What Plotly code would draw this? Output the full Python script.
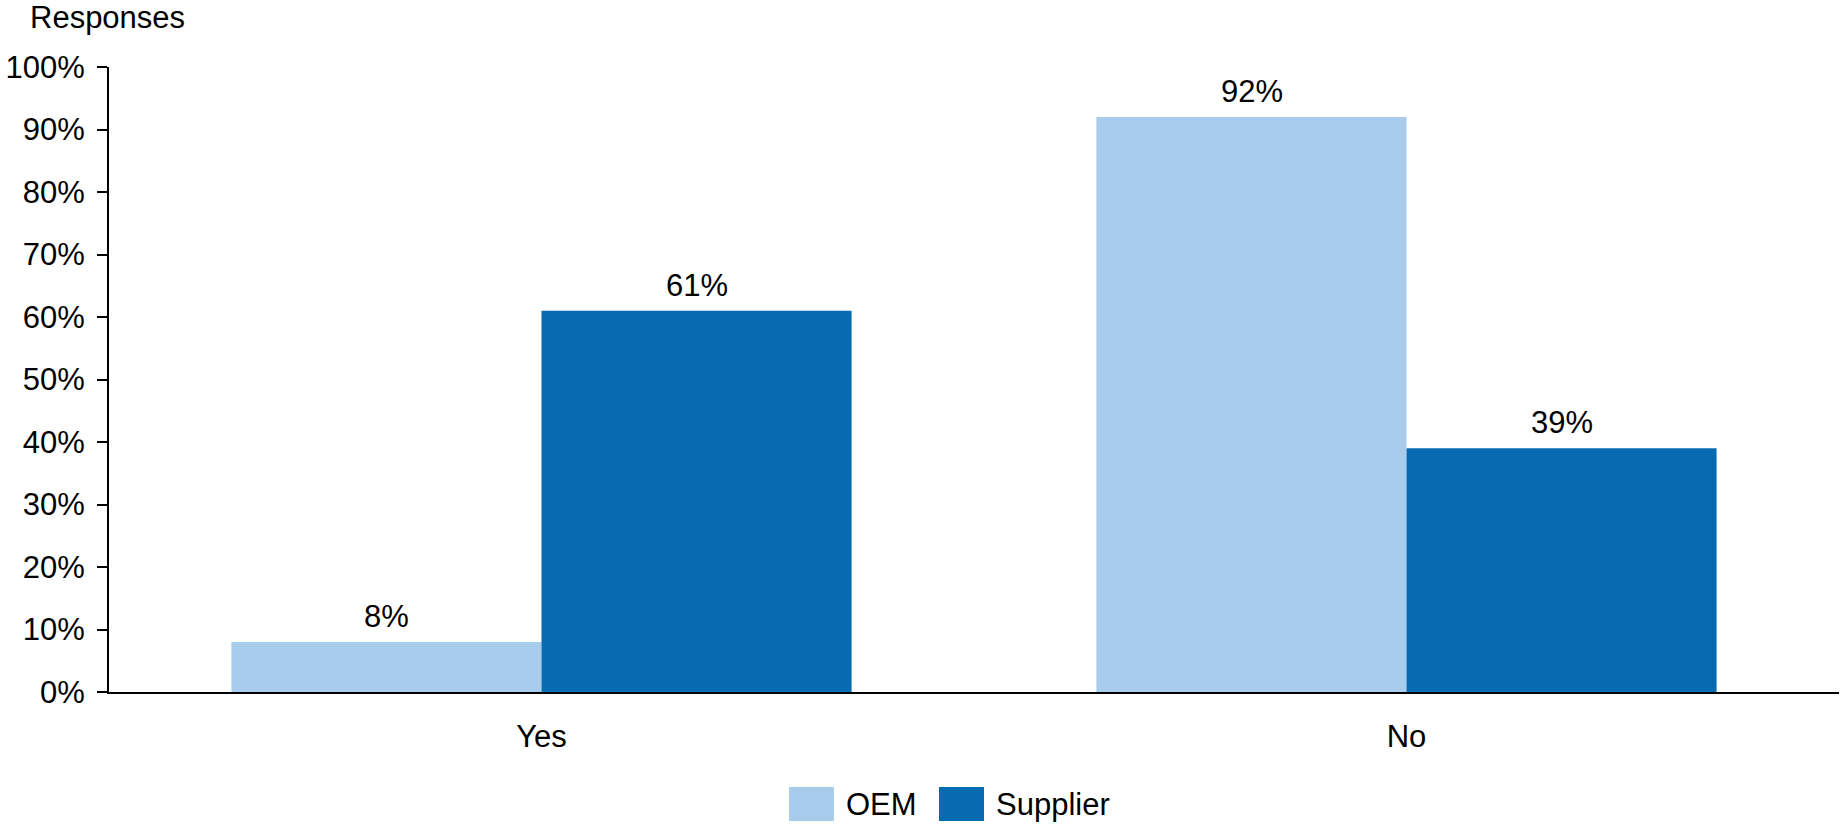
import plotly.graph_objects as go

# Survey answers and the share of each respondent group
answers = ["Yes", "No"]
groups = ["OEM", "Supplier"]
oem_pct = [8, 92]
supplier_pct = [61, 39]
y_ticks = list(range(0, 101, 10))

colors = {"OEM": "#A7CCEC", "Supplier": "#076BB1"}
font_family = "Liberation Sans, Arial, sans-serif"
FS = 31

W, H = 1840, 825
L, R, T, B = 109, 1, 67, 133
plot_w = W - L - R
plot_h = H - T - B

fig = go.Figure()
for name, vals in zip(groups, [oem_pct, supplier_pct]):
    fig.add_trace(go.Bar(
        x=answers, y=vals, name=name,
        marker=dict(color=colors[name], line=dict(width=0)),
        showlegend=False,
    ))

# Value labels above each bar, placed at the bar's own data value
bar_half = 155
for vals, shift in zip([oem_pct, supplier_pct], [-bar_half, bar_half]):
    for ans, v in zip(answers, vals):
        fig.add_annotation(x=ans, y=v, xref="x", yref="y", xshift=shift, yshift=6,
                           yanchor="bottom", text=f"{v}%", showarrow=False,
                           font=dict(size=FS, color="#000000", family=font_family))


def px_x(p):
    return (p - L) / plot_w


def px_y(p):
    return (H - B - p) / plot_h


# Legend drawn as swatches with labels beneath the plot
legend_items = [("OEM", 789, 846), ("Supplier", 939, 996)]
for name, sx, tx in legend_items:
    fig.add_shape(type="rect", xref="paper", yref="paper",
                  x0=px_x(sx), x1=px_x(sx + 45), y0=px_y(821), y1=px_y(787),
                  fillcolor=colors[name], line=dict(width=0), layer="above")
    fig.add_annotation(xref="paper", yref="paper", x=px_x(tx - 2), y=px_y(804),
                       xanchor="left", yanchor="middle", text=name, showarrow=False,
                       font=dict(size=FS, color="#000000", family=font_family))

fig.add_annotation(xref="paper", yref="paper", x=px_x(28), y=px_y(-2),
                   xanchor="left", yanchor="top", text="Responses", showarrow=False,
                   font=dict(size=FS, color="#000000", family=font_family))

fig.update_layout(
    width=W, height=H,
    margin=dict(l=L, r=R, t=T, b=B, pad=0),
    paper_bgcolor="white", plot_bgcolor="white",
    barmode="group", bargap=0.283, bargroupgap=0,
    font=dict(family=font_family, size=FS, color="#000000"),
    showlegend=False,
)
fig.update_xaxes(
    showline=True, linecolor="#000000", linewidth=2,
    ticks="", showgrid=False, zeroline=False, ticklabelstandoff=16,
    tickfont=dict(size=FS, color="#000000"),
)
fig.update_yaxes(
    range=[0, 100], tickvals=y_ticks, ticktext=[f"{v}%" for v in y_ticks],
    showline=True, linecolor="#000000", linewidth=2,
    ticks="outside", ticklen=10, tickwidth=2, tickcolor="#000000",
    showgrid=False, zeroline=False, ticklabelstandoff=6,
    tickfont=dict(size=FS, color="#000000"),
)

fig.write_html("out.html")
